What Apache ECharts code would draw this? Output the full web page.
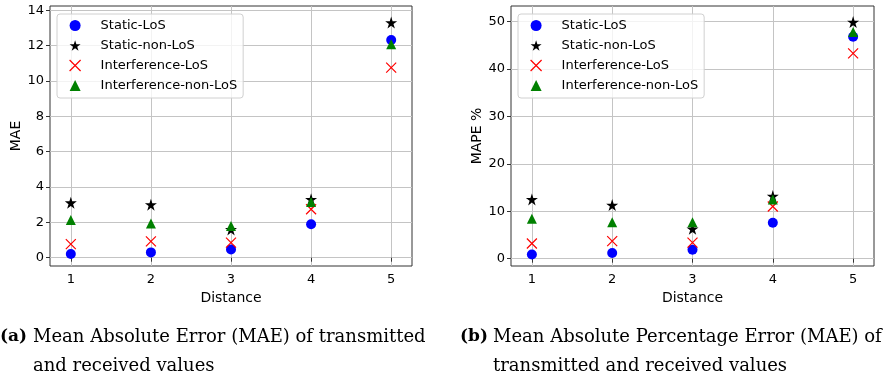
<!DOCTYPE html>
<html>
<head>
<meta charset="utf-8">
<script src="https://cdn.jsdelivr.net/npm/echarts@6/dist/echarts.min.js"></script>
<style>
  html, body { margin: 0; padding: 0; background: #fff; }
  #chart { width: 890px; height: 379px; }
</style>
</head>
<body>
<div id="chart"></div>
<script>
// data
const distances = [1, 2, 3, 4, 5]
const seriesNames = ['Static-LoS', 'Static-non-LoS', 'Interference-LoS', 'Interference-non-LoS']

const maeStaticLoS = [0.21, 0.3, 0.47, 1.89, 12.32]
const maeStaticNonLoS = [3.11, 3.0, 1.6, 3.3, 13.3]
const maeInterfLoS = [0.77, 0.92, 0.85, 2.74, 10.75]
const maeInterfNonLoS = [2.13, 1.94, 1.79, 3.15, 12.07]

const mapeStaticLoS = [0.9, 1.2, 1.9, 7.6, 46.8]
const mapeStaticNonLoS = [12.5, 11.3, 6.3, 13.2, 49.9]
const mapeInterfLoS = [3.2, 3.7, 3.4, 11.0, 43.3]
const mapeInterfNonLoS = [8.4, 7.7, 7.7, 12.5, 47.8]

const xTicks = [1, 2, 3, 4, 5]
const maeTicks = [0, 2, 4, 6, 8, 10, 12, 14]
const mapeTicks = [0, 10, 20, 30, 40, 50]

const captionA = ['Mean Absolute Error (MAE) of transmitted', 'and received values']
const captionB = ['Mean Absolute Percentage Error (MAE) of', 'transmitted and received values']

const FONT = 'DejaVu Sans'
const STAR = 'path://M50,0L61.2,34.5L97.6,34.5L68.2,55.9L79.4,90.5L50,69.1L20.6,90.5L31.8,55.9L2.4,34.5L38.8,34.5Z'
const CROSS = 'path://M0,0L10,10M10,0L0,10'

const markers = {
  'Static-LoS': { symbol: 'circle', symbolSize: 10, itemStyle: { color: '#0000ff', opacity: 1 } },
  'Static-non-LoS': { symbol: STAR, symbolSize: 12, itemStyle: { color: '#000000', opacity: 1 } },
  'Interference-LoS': {
    symbol: CROSS, symbolSize: 10,
    itemStyle: { color: 'rgba(0,0,0,0)', borderColor: '#ff0000', borderWidth: 1.2, opacity: 1 }
  },
  'Interference-non-LoS': { symbol: 'triangle', symbolSize: 10, itemStyle: { color: '#008000', opacity: 1 } }
}

function pts(ys) {
  return distances.map((d, i) => [d, ys[i]])
}

function makeSeries(name, ys, idx) {
  const m = markers[name]
  return {
    name,
    type: 'scatter',
    xAxisIndex: idx,
    yAxisIndex: idx,
    symbol: m.symbol,
    symbolSize: m.symbolSize,
    itemStyle: m.itemStyle,
    emphasis: { disabled: true },
    data: pts(ys)
  }
}

function xAxis(idx) {
  return {
    type: 'value',
    gridIndex: idx,
    min: 0.74,
    max: 5.26,
    name: 'Distance',
    nameLocation: 'middle',
    nameGap: 20,
    nameTextStyle: { fontFamily: FONT, fontSize: 14, color: '#000' },
    axisLine: { show: false },
    axisTick: { show: true, inside: false, length: 4, customValues: xTicks, lineStyle: { color: '#333' } },
    axisLabel: { customValues: xTicks, margin: 7, fontFamily: FONT, fontSize: 13, color: '#000' },
    splitLine: { show: true, lineStyle: { color: '#c4c4c4', width: 1 } }
  }
}

function yAxis(idx, name, min, max, ticks) {
  return {
    type: 'value',
    gridIndex: idx,
    min,
    max,
    name,
    nameLocation: 'middle',
    nameGap: 27,
    nameTextStyle: { fontFamily: FONT, fontSize: 14, color: '#000' },
    axisLine: { show: false },
    axisTick: { show: true, inside: false, length: 4, customValues: ticks, lineStyle: { color: '#333' } },
    axisLabel: { customValues: ticks, margin: 6, fontFamily: FONT, fontSize: 13, color: '#000' },
    splitLine: { show: true, lineStyle: { color: '#c4c4c4', width: 1 } }
  }
}

function legend(left) {
  return {
    orient: 'vertical',
    left,
    top: 14,
    padding: [5, 6, 6, 12],
    itemWidth: 11,
    itemHeight: 11,
    itemGap: 7,
    backgroundColor: 'rgba(255,255,255,0.8)',
    borderColor: '#d0d0d0',
    borderWidth: 1,
    borderRadius: 3,
    selectedMode: false,
    textStyle: { fontFamily: FONT, fontSize: 13, color: '#000', padding: [0, 0, 0, 15] },
    data: seriesNames.map(n => ({
      name: n,
      icon: markers[n].symbol,
      itemStyle: markers[n].itemStyle
    }))
  }
}

function caption(x, y, tag, lines) {
  return [
    {
      type: 'text', left: x, top: y,
      style: { text: '(' + tag + ')', font: 'bold 17px "DejaVu Serif"', fill: '#000' }
    },
    {
      type: 'text', left: x + 33, top: y,
      style: { text: lines[0], font: '18px "DejaVu Serif"', fill: '#000' }
    },
    {
      type: 'text', left: x + 33, top: y + 29,
      style: { text: lines[1], font: '18px "DejaVu Serif"', fill: '#000' }
    }
  ]
}

const chart = echarts.init(document.getElementById('chart'), null, { renderer: 'canvas' })

const option = {
  animation: false,
  backgroundColor: '#fff',
  grid: [
    { left: 50, right: 478, top: 6, bottom: 113, show: true, borderColor: '#333', borderWidth: 1, backgroundColor: 'rgba(0,0,0,0)' },
    { left: 511, right: 16, top: 6, bottom: 113, show: true, borderColor: '#333', borderWidth: 1, backgroundColor: 'rgba(0,0,0,0)' }
  ],
  xAxis: [xAxis(0), xAxis(1)],
  yAxis: [
    yAxis(0, 'MAE', -0.47, 14.24, maeTicks),
    yAxis(1, 'MAPE %', -1.54, 53.3, mapeTicks)
  ],
  legend: [legend(57), legend(518)],
  series: [
    makeSeries('Static-LoS', maeStaticLoS, 0),
    makeSeries('Static-non-LoS', maeStaticNonLoS, 0),
    makeSeries('Interference-LoS', maeInterfLoS, 0),
    makeSeries('Interference-non-LoS', maeInterfNonLoS, 0),
    makeSeries('Static-LoS', mapeStaticLoS, 1),
    makeSeries('Static-non-LoS', mapeStaticNonLoS, 1),
    makeSeries('Interference-LoS', mapeInterfLoS, 1),
    makeSeries('Interference-non-LoS', mapeInterfNonLoS, 1)
  ],
  graphic: [].concat(
    caption(0, 328, 'a', captionA),
    caption(460, 328, 'b', captionB)
  )
}

chart.setOption(option)
</script>
</body>
</html>
